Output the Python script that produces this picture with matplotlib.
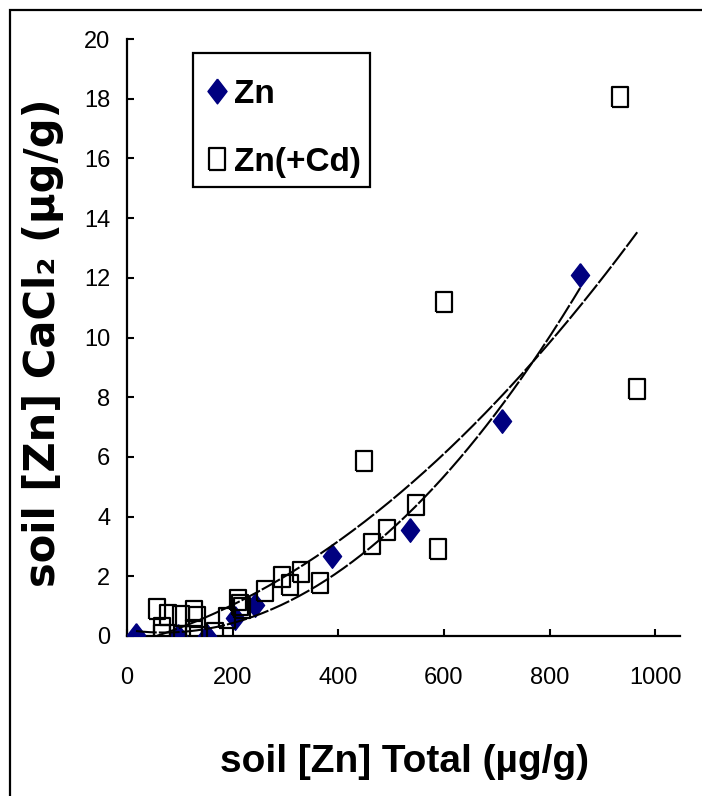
import numpy as np
import matplotlib
matplotlib.use("Agg")
import matplotlib.pyplot as plt
from matplotlib import font_manager
from matplotlib.patches import Rectangle

# Soil Zn: CaCl2-extractable vs total (µg/g)
zn_total = [17, 97, 152, 205, 242, 388, 536, 710, 858]
zn_cacl2 = [0.05, 0.0, 0.0, 0.6, 1.05, 2.68, 3.55, 7.2, 12.1]

zncd_total = [57, 78, 102, 127, 133, 66, 66, 104, 127, 127, 167, 189, 210, 214,
              218, 261, 293, 309, 329, 366, 449, 464, 492, 547, 589, 600, 934, 966]
zncd_cacl2 = [0.9, 0.7, 0.67, 0.84, 0.64, 0.27, 0.03, 0.0, 0.2, 0.0, 0.1, 0.6, 1.2, 1.04,
              0.94, 1.5, 1.98, 1.7, 2.14, 1.78, 5.86, 3.08, 3.55, 4.39, 2.91, 11.19, 18.06, 8.27]

series_labels = ["Zn", "Zn(+Cd)"]
x_ticks = [0, 200, 400, 600, 800, 1000]
y_ticks = [0, 2, 4, 6, 8, 10, 12, 14, 16, 18, 20]
x_title = "soil [Zn] Total (µg/g)"
y_title = "soil [Zn] CaCl\u2082 (µg/g)"

installed = {f.name for f in font_manager.fontManager.ttflist}
base_font = "Liberation Sans" if "Liberation Sans" in installed else "DejaVu Sans"
if "Liberation Sans Narrow" in installed:
    xtitle_font, xtitle_size = "Liberation Sans Narrow", 34
else:
    xtitle_font, xtitle_size = base_font, 28

plt.rcParams["font.family"] = [base_font, "DejaVu Sans"]

W, H = 702, 796
fig = plt.figure(figsize=(W / 100, H / 100), dpi=100)
ax = fig.add_axes([127 / W, 1 - 636 / H, (680 - 127) / W, (636 - 39) / H])

# outer frame around the whole chart
fig.patches.append(Rectangle((10 / W, -0.2), 1.5, 1.2 - 10 / H, transform=fig.transFigure,
                             fill=False, ec="black", lw=1.6, zorder=0))

navy = "#000080"
diamond = [(0, 1.3), (1, 0), (0, -1.3), (-1, 0), (0, 1.3)]
box = [(-0.75, -1), (0.75, -1), (0.75, 1), (-0.75, 1), (-0.75, -1)]

ax.plot(zn_total, zn_cacl2, linestyle="none", marker=diamond, markersize=17,
        color=navy, mec=navy, label=series_labels[0], zorder=3)
ax.plot(zncd_total, zncd_cacl2, linestyle="none", marker=box, markersize=14.5,
        mfc="none", mec="black", mew=1.6, label=series_labels[1], zorder=4)

# second-order polynomial trendlines over each series' range
for xs, ys in ((zn_total, zn_cacl2), (zncd_total, zncd_cacl2)):
    coef = np.polyfit(xs, ys, 2)
    xx = np.linspace(min(xs), max(xs), 200)
    ax.plot(xx, np.polyval(coef, xx), color="black", lw=1.5,
            linestyle=(0, (10, 1)), zorder=5)

ax.set_xlim(0, 1047)
ax.set_ylim(0, 20)
ax.set_xticks(x_ticks)
ax.set_yticks(y_ticks)
for s in ("top", "right"):
    ax.spines[s].set_visible(False)
for s in ("left", "bottom"):
    ax.spines[s].set_linewidth(1.6)
ax.tick_params(direction="in", length=5, width=1.5, labelsize=17)
ax.tick_params(axis="y", pad=12)
ax.tick_params(axis="x", pad=22)

ax.set_xlabel(x_title, fontfamily=[xtitle_font, "DejaVu Sans"], fontsize=xtitle_size,
              fontweight="bold")
ax.xaxis.set_label_coords((404 - 127) / (680 - 127), (636 - 762) / (636 - 39))
ax.xaxis.label.set_va("center")

ax.set_ylabel(y_title, fontfamily=["DejaVu Sans"], fontsize=30, fontweight="bold")
ax.yaxis.set_label_coords((43 - 127) / (680 - 127), (636 - 343) / (636 - 39))
ax.yaxis.label.set_va("center")

# legend entries, with their own box drawn separately
leg_fs = 24
leg = ax.legend(loc="upper left", bbox_to_anchor=(207 / W, 1 - 79 / H),
                bbox_transform=fig.transFigure, borderaxespad=0, frameon=False,
                prop={"family": base_font, "weight": "bold", "size": leg_fs},
                handlelength=0.6, handletextpad=0.22, labelspacing=1.1,
                borderpad=0, markerscale=1.05)
fig.patches.append(Rectangle((193 / W, 1 - 187 / H), (370 - 193) / W, (187 - 53) / H,
                             transform=fig.transFigure, fill=False, ec="black",
                             lw=1.6, zorder=2))

fig.savefig("out.png", dpi=100)
